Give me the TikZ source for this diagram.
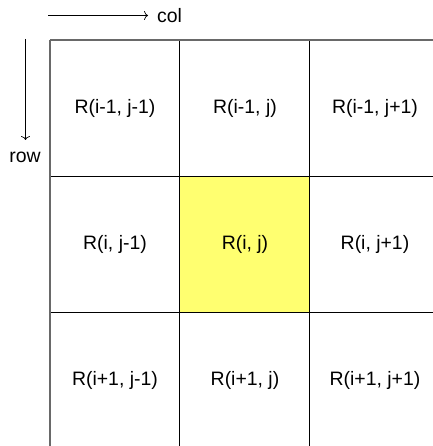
\documentclass[tikz,border=0pt]{standalone}
\usepackage{fontspec}
\setmainfont{Liberation Sans}
\usetikzlibrary{arrows.meta}
\begin{document}
\begin{tikzpicture}[x=1bp,y=-1bp,
  cell/.style={minimum width=130bp, minimum height=136bp, inner sep=0pt,
    font=\fontsize{19.5}{22}\selectfont},
  gridline/.style={draw=black, line width=1bp},
  edge/.style={draw={rgb,255:red,105;green,105;blue,105}, line width=2bp},
  axis/.style={-{To[length=4pt,width=9pt]}, line width=0.7bp},
  axislabel/.style={font=\fontsize{19.5}{22}\selectfont, inner sep=0pt}]
  \useasboundingbox (0,0) rectangle (433,446);
  \clip (0,0) rectangle (433,446);

  % 3x3 neighbourhood of R(i, j)
  \node[cell] (nw) at (115,108.5) {};
  \node[cell] (n)  at (245,108.5) {};
  \node[cell] (ne) at (375,108.5) {};
  \node[cell] (w)  at (115,244.5) {};
  \node[cell, fill={rgb,255:red,255;green,255;blue,112}] (c) at (245,244.5) {};
  \node[cell] (e)  at (375,244.5) {};
  \node[cell] (sw) at (115,380.5) {};
  \node[cell] (s)  at (245,380.5) {};
  \node[cell] (se) at (375,380.5) {};

  % inner grid lines
  \draw[gridline] ([xshift=-0.5bp]nw.north east) -- ([xshift=-0.5bp]sw.south east);
  \draw[gridline] ([xshift=-0.5bp]n.north east) -- ([xshift=-0.5bp]s.south east);
  \draw[gridline] (nw.south west) -- (ne.south east);
  \draw[gridline] (w.south west) -- (e.south east);

  % outer top and left edges of the grid
  \draw[edge] ([yshift=0.5bp]nw.north west) -- ([yshift=0.5bp]ne.north east);
  \draw[edge] (nw.north west) -- (sw.south west);

  % cell labels
  \node[cell] at (nw) {R(i-1, j-1)};
  \node[cell] at (n)  {R(i-1, j)};
  \node[cell] at (ne) {R(i-1, j+1)};
  \node[cell] at (w)  {R(i, j-1)};
  \node[cell] at (c)  {R(i, j)};
  \node[cell] at (e)  {R(i, j+1)};
  \node[cell] at (sw) {R(i+1, j-1)};
  \node[cell] at (s)  {R(i+1, j)};
  \node[cell] at (se) {R(i+1, j+1)};

  % index directions
  \node[axislabel, anchor=west] (col) at (157,16) {col};
  \coordinate (colstart) at (48,15.5);
  \coordinate (colend) at (148,15.5);
  \draw[axis] (colstart) -- (colend);
  \node[axislabel] (row) at (25,157) {row};
  \coordinate (rowstart) at (25.5,39);
  \coordinate (rowend) at (25.5,140);
  \draw[axis] (rowstart) -- (rowend);
\end{tikzpicture}
\end{document}
